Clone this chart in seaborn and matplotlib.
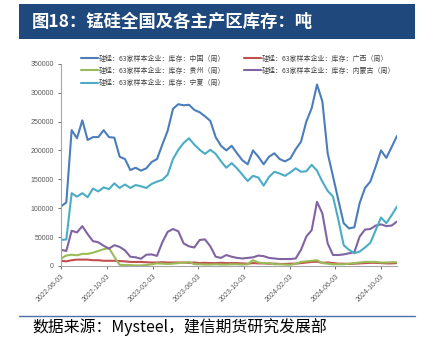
import numpy as np
import pandas as pd
import matplotlib
matplotlib.use("Agg")
import matplotlib.pyplot as plt
from matplotlib.patches import Rectangle
from matplotlib.lines import Line2D
import seaborn as sns

# weekly-ish observations (about every two weeks), tonnes
start_date = "2022-06-03"
end_date = "2024-11-15"
n_points = 64

china = [103, 110, 235, 221, 252, 218, 223, 223, 235, 223, 222, 189, 185, 166, 170, 165,
         169, 180, 185, 210, 234, 272, 280, 278, 279, 270, 266, 259, 251, 223, 208, 200,
         208, 195, 183, 176, 200, 189, 176, 189, 195, 185, 181, 186, 202, 215, 250, 273,
         314, 285, 195, 155, 114, 74, 65, 67, 109, 135, 146, 172, 200, 187, 206, 225]
guangxi = [9, 8, 10, 11, 11, 11, 10, 10, 9, 9, 9, 8.5, 8, 7, 7, 7,
           6.5, 6, 6, 6.5, 6, 6, 6, 6, 5.5, 6, 5, 5.5, 5, 5, 5.5, 5,
           5, 5, 4.5, 4, 5, 4.5, 4.5, 4, 4, 3.5, 3.5, 4, 4, 5, 6, 7,
           7.5, 5.5, 6, 5, 4, 4, 3.5, 4, 4.5, 5, 5.5, 5.5, 5, 4.5, 4.5, 5]
guizhou = [13, 18, 19.5, 18.5, 21, 21, 23, 26, 29, 31, 16, 2, 1.5, 1.5, 1, 1,
           1.5, 3, 4.5, 4, 3.5, 4, 5, 5.5, 7, 3, 3, 2.5, 2.5, 3, 2.5, 2.5,
           3, 3, 2.5, 3, 10, 6, 5, 5, 3, 3, 2.5, 2, 4, 7, 8, 9,
           10, 5, 4, 3, 3, 3, 4, 5, 6, 7, 7, 7, 6, 6, 6.5, 6.5]
neimenggu = [28, 26, 61, 58, 69, 55, 43, 41, 35, 30, 36, 33, 27, 16, 15, 12.5,
             19.5, 20, 17.5, 41, 59, 64, 60, 39, 34, 32, 45, 46, 34, 16, 14, 19,
             16, 14, 13, 14, 15, 18, 17, 14, 13, 12, 12, 12, 13, 28, 51, 62,
             111, 91, 39, 19, 19, 20, 22, 24, 51, 63, 64, 70, 72, 69, 70, 77]
ningxia = [45, 46, 126, 120, 126, 119, 134, 129, 136, 133, 143, 135, 141, 135, 140, 138,
           135, 142, 146, 149, 158, 185, 201, 213, 221, 210, 201, 194, 201, 194, 181, 170,
           178, 169, 158, 147, 156, 153, 139, 154, 163, 160, 156, 162, 169, 163, 164, 175,
           165, 146, 130, 120, 80, 36, 28, 22, 25, 32, 40, 62, 84, 74, 88, 103]

series_names = [
    "硅锰：63家样本企业：库存：中国（周）",
    "硅锰：63家样本企业：库存：广西（周）",
    "硅锰：63家样本企业：库存：贵州（周）",
    "硅锰：63家样本企业：库存：内蒙古（周）",
    "硅锰：63家样本企业：库存：宁夏（周）",
]
series_values = [china, guangxi, guizhou, neimenggu, ningxia]
colors = ["#4a7ebb", "#c0504d", "#9bbb59", "#8064a2", "#4bacc6"]

tick_dates = ["2022-06-03", "2022-10-03", "2023-02-03", "2023-06-03",
              "2023-10-03", "2024-02-03", "2024-06-03", "2024-10-03"]
y_ticks = [0, 50000, 100000, 150000, 200000, 250000, 300000, 350000]

dates = pd.date_range(start_date, end_date, periods=n_points)
frames = []
for name, vals in zip(series_names, series_values):
    frames.append(pd.DataFrame({"date": dates, "value": np.array(vals) * 1000, "series": name}))
data = pd.concat(frames, ignore_index=True)

sns.set_style("white")
plt.rcParams["font.family"] = ["Noto Sans CJK SC", "DejaVu Sans"]

fig = plt.figure(figsize=(4.22, 3.53), dpi=100)
ax = fig.add_axes([0.1445, 0.2465, 0.7963, 0.573])

sns.lineplot(data=data, x="date", y="value", hue="series", hue_order=series_names,
             palette=colors, linewidth=1.5, ax=ax, legend=False)

ax.set_xlim(pd.Timestamp(start_date), pd.Timestamp(end_date))
ax.set_ylim(0, 350000)
ax.set_yticks(y_ticks)
ax.set_yticklabels([str(v) for v in y_ticks])
ax.set_xticks(pd.to_datetime(tick_dates))
ax.set_xticklabels(tick_dates, rotation=45, ha="right", rotation_mode="anchor")
ax.set_xlabel("")
ax.set_ylabel("")
ax.tick_params(axis="both", labelsize=5, colors="#595959", length=2.5, width=0.6,
               direction="out", pad=2.5)
ax.tick_params(axis="y", left=True)
ax.tick_params(axis="x", bottom=True)
for lbl in ax.get_xticklabels() + ax.get_yticklabels():
    lbl.set_fontfamily("Liberation Sans")
for side in ["top", "right"]:
    ax.spines[side].set_visible(False)
for side in ["left", "bottom"]:
    ax.spines[side].set_color("#a6a6a6")
    ax.spines[side].set_linewidth(0.8)

# legend: 2 columns, filled column-wise
order = [0, 2, 4, 1, 3]
handles = [Line2D([], [], color=colors[i], linewidth=1.5) for i in order]
labels = [series_names[i] for i in order]
fig.legend(handles, labels, loc="upper left", bbox_to_anchor=(0.193, 0.845),
           ncol=2, frameon=False, fontsize=5, handlelength=2.45, handletextpad=0.1,
           columnspacing=2.6, labelspacing=0.6, borderpad=0, borderaxespad=0,
           labelcolor="#404040")

# header bar
fig.add_artist(Rectangle((0.045, 0.8895), 0.938, 0.0992, transform=fig.transFigure,
                         facecolor="#1f497d", edgecolor="none"))
fig.text(0.076, 0.939, "图18：锰硅全国及各主产区库存：吨", color="white", fontsize=12.5,
         fontweight="bold", va="center", ha="left")

# footer
fig.add_artist(Line2D([0.045, 0.983], [0.1048, 0.1048], transform=fig.transFigure,
                      color="#4f6fa8", linewidth=1))
fig.text(0.076, 0.0737, "数据来源：Mysteel，建信期货研究发展部", color="black", fontsize=11.4,
         style="italic", va="center", ha="left")

fig.savefig("out.png", dpi=100)
